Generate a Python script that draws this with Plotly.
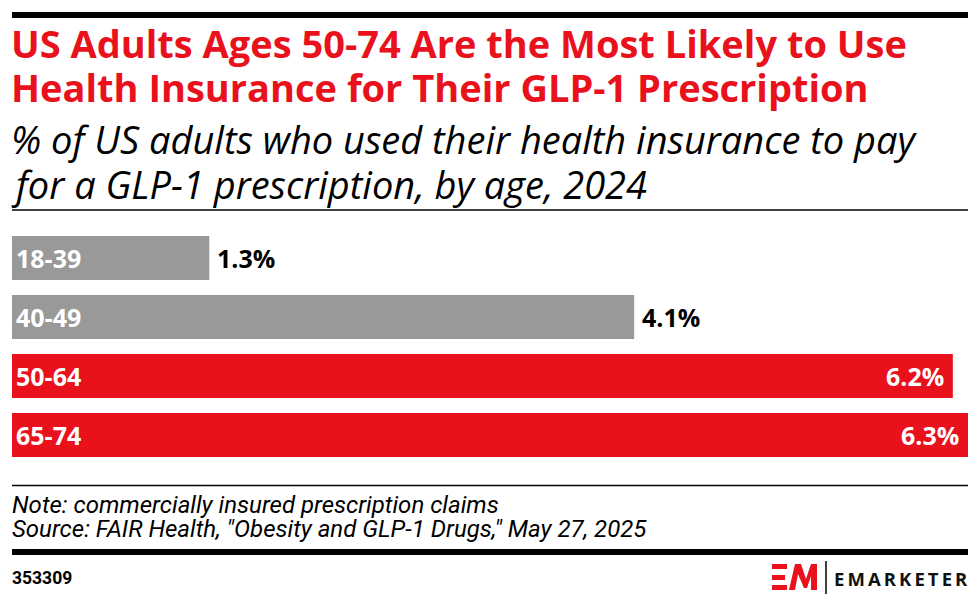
import plotly.graph_objects as go

W, H = 980, 605

ages = ["18-39", "40-49", "50-64", "65-74"]
shares = [1.3, 4.1, 6.2, 6.3]
highlight = [False, False, True, True]

RED = "#E8111C"
GRAY = "#999999"
FONT = "Open Sans"
NOTE_FONT = "Roboto"


def px(x):
    return x / W


def py(y):
    return 1 - y / H


fig = go.Figure()

fig.add_trace(go.Bar(
    x=shares,
    y=ages,
    orientation="h",
    marker=dict(color=[RED if h else GRAY for h in highlight], line=dict(width=0)),
    hoverinfo="skip",
))

annotations = []

# age labels inside the bars, values at the bar end
for age, val, hl in zip(ages, shares, highlight):
    annotations.append(dict(
        x=0, y=age, xref="x", yref="y", text="<b>%s</b>" % age,
        xanchor="left", yanchor="middle", xshift=2, showarrow=False,
        font=dict(family=FONT, size=25, color="white"),
    ))
    if hl:
        annotations.append(dict(
            x=val, y=age, xref="x", yref="y", text="<b>%.1f%%</b>" % val,
            xanchor="right", yanchor="middle", xshift=-7, showarrow=False,
            font=dict(family=FONT, size=25, color="white"),
        ))
    else:
        annotations.append(dict(
            x=val, y=age, xref="x", yref="y", text="<b>%.1f%%</b>" % val,
            xanchor="left", yanchor="middle", xshift=6, showarrow=False,
            font=dict(family=FONT, size=25, color="black"),
        ))

title_lines = ["US Adults Ages 50-74 Are the Most Likely to Use",
               "Health Insurance for Their GLP-1 Prescription"]
subtitle_lines = ["% of US adults who used their health insurance to pay",
                  "for a GLP-1 prescription, by age, 2024"]

for i, t in enumerate(title_lines):
    annotations.append(dict(
        x=px(9), y=py(43 + 44 * i), xref="paper", yref="paper",
        text="<b>%s</b>" % t, xanchor="left", yanchor="middle", showarrow=False,
        font=dict(family=FONT, size=38, color=RED),
    ))
for i, t in enumerate(subtitle_lines):
    annotations.append(dict(
        x=px(9), y=py(139 + 45 * i), xref="paper", yref="paper",
        text="<i>%s</i>" % t, xanchor="left", yanchor="middle", showarrow=False,
        font=dict(family=FONT, size=38, color="black"),
    ))

annotations.append(dict(
    x=px(10), y=py(505), xref="paper", yref="paper",
    text="<i>Note: commercially insured prescription claims</i>",
    xanchor="left", yanchor="middle", showarrow=False,
    font=dict(family=NOTE_FONT, size=24, color="black"),
))
annotations.append(dict(
    x=px(10), y=py(529), xref="paper", yref="paper",
    text='<i>Source: FAIR Health, "Obesity and GLP-1 Drugs," May 27, 2025</i>',
    xanchor="left", yanchor="middle", showarrow=False,
    font=dict(family=NOTE_FONT, size=24, color="black"),
))
annotations.append(dict(
    x=px(10), y=py(578), xref="paper", yref="paper",
    text="<b>353309</b>", xanchor="left", yanchor="middle", showarrow=False,
    font=dict(family=NOTE_FONT, size=17.5, color="black"),
))
annotations.append(dict(
    x=px(970), y=py(578), xref="paper", yref="paper",
    text="<b>E\u2009M\u2009A\u2009R\u2009K\u2009E\u2009T\u2009E\u2009R</b>",
    xanchor="right", yanchor="middle", showarrow=False,
    font=dict(family=FONT, size=18.5, color="#111111"),
))

shapes = [
    dict(type="line", xref="paper", yref="paper", x0=px(12), x1=px(968),
         y0=py(15), y1=py(15), line=dict(color="black", width=6)),
    dict(type="line", xref="paper", yref="paper", x0=px(12), x1=px(968),
         y0=py(210), y1=py(210), line=dict(color="black", width=1.5)),
    dict(type="line", xref="paper", yref="paper", x0=px(12), x1=px(968),
         y0=py(485.5), y1=py(485.5), line=dict(color="black", width=1.5)),
    dict(type="line", xref="paper", yref="paper", x0=px(12), x1=px(968),
         y0=py(552), y1=py(552), line=dict(color="black", width=6)),
    # logo separator
    dict(type="line", xref="paper", yref="paper", x0=px(826), x1=px(826),
         y0=py(561), y1=py(594), line=dict(color="black", width=1.5)),
]

# EM mark
for y0, y1, x1 in [(564, 569, 787), (575, 580, 785), (585, 590, 787)]:
    shapes.append(dict(type="rect", xref="paper", yref="paper",
                       x0=px(772), x1=px(x1), y0=py(y0), y1=py(y1),
                       fillcolor=RED, line=dict(width=0)))
m_pts = [(789, 590), (795, 564), (801, 564), (806, 579), (811, 564), (817, 564),
         (817, 590), (811, 590), (811, 576), (807, 588), (804, 588), (798, 574), (795, 590)]
path = "M " + " L ".join("%.5f,%.5f" % (px(a), py(b)) for a, b in m_pts) + " Z"
shapes.append(dict(type="path", xref="paper", yref="paper", path=path,
                   fillcolor=RED, line=dict(width=0)))

fig.update_layout(
    width=W, height=H,
    margin=dict(l=0, r=0, t=0, b=0),
    paper_bgcolor="white", plot_bgcolor="white",
    showlegend=False,
    bargap=0.254,
    xaxis=dict(domain=[px(12), px(968)], range=[0, 6.3], visible=False, fixedrange=True),
    yaxis=dict(domain=[py(464.5), py(228.5)], autorange="reversed", visible=False,
               fixedrange=True),
    annotations=annotations,
    shapes=shapes,
)

fig.write_html("out.html", config={"displayModeBar": False},
               post_script="document.body.style.margin='0';")
